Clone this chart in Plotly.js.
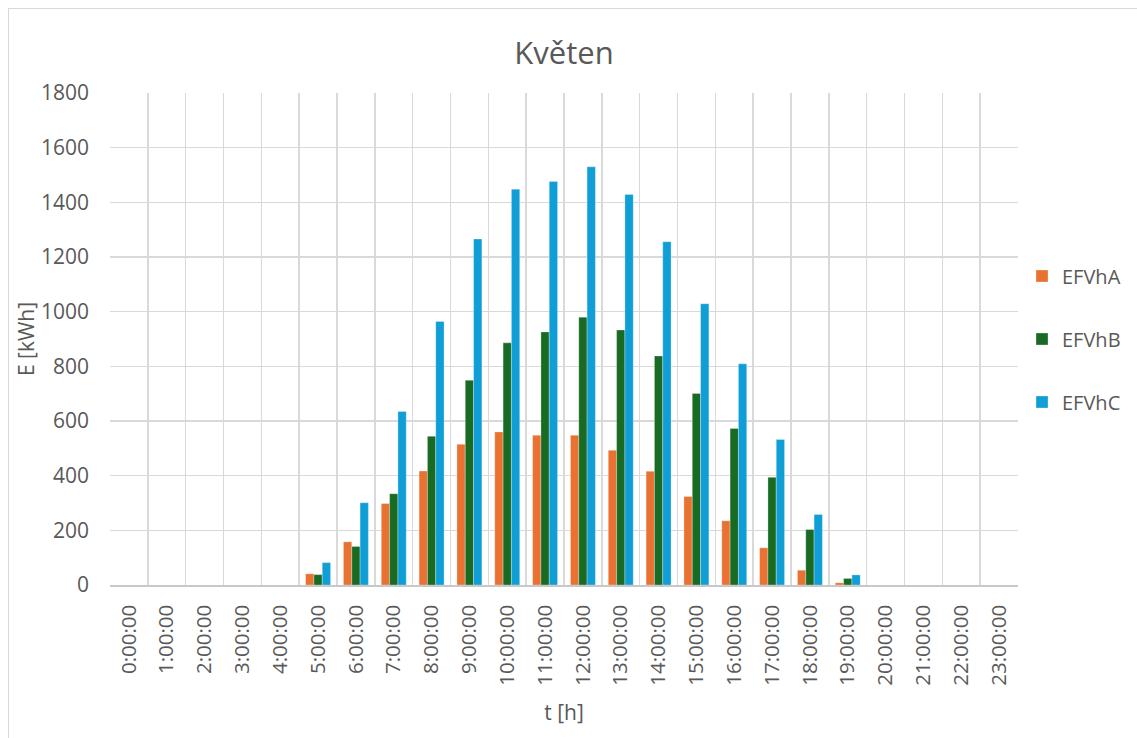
<!DOCTYPE html>
<html>
<head>
<meta charset="utf-8">
<script src="https://cdn.plot.ly/plotly-3.0.1.min.js"></script>
<style>
  html, body { margin: 0; padding: 0; background: #fff; }
  #chart { position: absolute; left: 0; top: 0; width: 1137px; height: 738px; }
  #frame { position: absolute; left: 8px; top: 8px; width: 1140px; height: 740px; border: 1px solid #d9d9d9; pointer-events: none; }
</style>
</head>
<body>
<div id="chart"></div>
<div id="frame"></div>
<script>
const hours = ["0:00:00","1:00:00","2:00:00","3:00:00","4:00:00","5:00:00","6:00:00","7:00:00","8:00:00","9:00:00","10:00:00","11:00:00","12:00:00","13:00:00","14:00:00","15:00:00","16:00:00","17:00:00","18:00:00","19:00:00","20:00:00","21:00:00","22:00:00","23:00:00"];
const EFVhA = [0,0,0,0,0,41,158,298,417,515,560,548,548,493,416,324,235,136,54,8,0,0,0,0];
const EFVhB = [0,0,0,0,0,38,141,334,544,749,886,926,980,933,838,701,573,394,203,24,0,0,0,0];
const EFVhC = [0,0,0,0,0,82,301,635,964,1266,1448,1476,1530,1429,1256,1029,809,532,258,37,0,0,0,0];

const seriesNames = ["EFVhA","EFVhB","EFVhC"];
const seriesColors = ["#E97132","#196B24","#0F9ED5"];
const seriesData = [EFVhA, EFVhB, EFVhC];

const FONT = "Open Sans, Liberation Sans, sans-serif";
const traces = seriesData.map((d, i) => ({
  type: "bar",
  name: seriesNames[i],
  x: hours,
  y: d,
  legendgroup: "g" + i,
  marker: { color: seriesColors[i], line: { color: "rgba(255,255,255,0.6)", width: 0.5 } },
  hoverinfo: "x+y+name"
}));

const layout = {
  width: 1137,
  height: 738,
  margin: { l: 110, r: 119, t: 93, b: 153 },
  paper_bgcolor: "#ffffff",
  plot_bgcolor: "#ffffff",
  font: { family: FONT, color: "#595959", size: 20 },
  title: {
    text: "Květen",
    font: { family: FONT, size: 31, color: "#595959" },
    x: 0.5, xref: "paper", xanchor: "center",
    y: 1 - 53 / 738, yref: "container", yanchor: "middle"
  },
  barmode: "group",
  bargap: 0.34,
  bargroupgap: 0,
  xaxis: {
    type: "category",
    tickson: "boundaries",
    tickangle: -90,
    tickfont: { family: FONT, size: 20.5, color: "#595959" },
    showgrid: true,
    gridcolor: "#d9d9d9",
    gridwidth: 1.5,
    showline: true,
    linecolor: "#c8c8c8",
    linewidth: 1.5,
    ticks: "",
    ticklabelstandoff: 10,
    title: { text: "t [h]", font: { family: FONT, size: 21, color: "#595959" }, standoff: 20 },
    mirror: false
  },
  yaxis: {
    range: [0, 1800],
    dtick: 200,
    tick0: 0,
    tickfont: { family: FONT, size: 21, color: "#595959" },
    showgrid: true,
    gridcolor: "#d9d9d9",
    gridwidth: 1.5,
    zeroline: false,
    showline: false,
    ticks: "",
    ticklabelstandoff: 20,
    title: { text: "E [kWh]", font: { family: FONT, size: 21, color: "#595959" }, standoff: 0 }
  },
  legend: {
    x: 1022 / 1137, xref: "container", xanchor: "left",
    y: 0.5, yref: "paper", yanchor: "middle",
    font: { family: FONT, size: 20, color: "#595959" },
    tracegroupgap: 34,
    itemwidth: 30,
    bgcolor: "rgba(0,0,0,0)"
  },
  showlegend: true
};

Plotly.newPlot("chart", traces, layout, { displayModeBar: false, staticPlot: true });
</script>
</body>
</html>
